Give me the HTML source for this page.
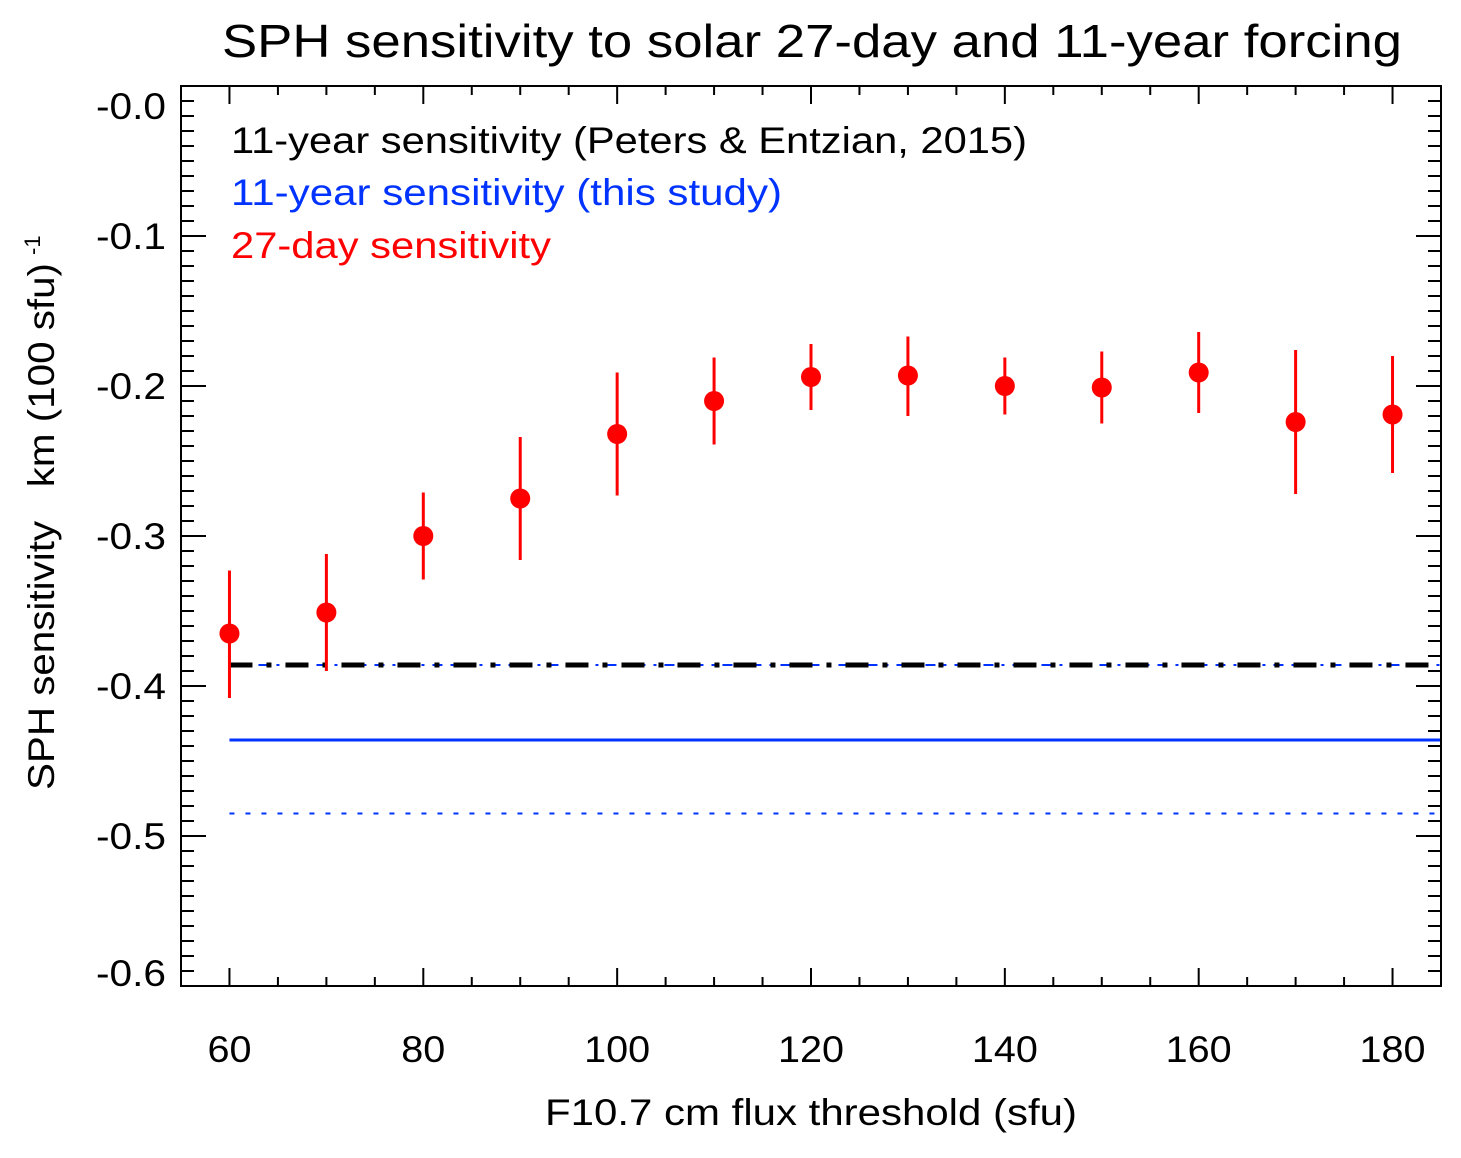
<!DOCTYPE html>
<html><head><meta charset="utf-8"><style>
html,body{margin:0;padding:0;background:#fff;}
svg text{font-family:"Liberation Sans",sans-serif;}
</style></head><body>
<svg id="chart" width="1461" height="1153" xmlns="http://www.w3.org/2000/svg">
<text x="222" y="57" font-size="46" textLength="1180" lengthAdjust="spacingAndGlyphs" fill="#000">SPH sensitivity to solar 27-day and 11-year forcing</text>
<g id="ticks"></g>
<g id="lines"></g>
<g id="points"></g>
<rect x="181" y="86" width="1260" height="900" fill="none" stroke="#000" stroke-width="2"/>
<text x="545" y="1125" font-size="37" textLength="532" lengthAdjust="spacingAndGlyphs">F10.7 cm flux threshold (sfu)</text>
<g transform="translate(54,790) rotate(-90)">
<text x="0" y="0" font-size="37" textLength="527" lengthAdjust="spacingAndGlyphs">SPH sensitivity&#160;&#160;&#160;km (100 sfu)</text>
<text x="535" y="-14" font-size="22">-1</text>
</g>
<text x="231" y="153" font-size="37" textLength="796" lengthAdjust="spacingAndGlyphs" fill="#000">11-year sensitivity (Peters &amp; Entzian, 2015)</text>
<text x="231" y="205" font-size="37" textLength="551" lengthAdjust="spacingAndGlyphs" fill="#0033ff">11-year sensitivity (this study)</text>
<text x="231" y="258" font-size="37" textLength="320" lengthAdjust="spacingAndGlyphs" fill="#ff0000">27-day sensitivity</text>
</svg>
<script>
const thresholds=[60,70,80,90,100,110,120,130,140,150,160,170,180];
const sens27=[-0.365,-0.351,-0.300,-0.275,-0.232,-0.210,-0.194,-0.193,-0.200,-0.201,-0.191,-0.224,-0.219];
const errHi=[-0.323,-0.312,-0.271,-0.234,-0.191,-0.181,-0.172,-0.167,-0.181,-0.177,-0.164,-0.176,-0.180];
const errLo=[-0.408,-0.390,-0.329,-0.316,-0.273,-0.239,-0.216,-0.220,-0.219,-0.225,-0.218,-0.272,-0.258];
const peters11=-0.386;
const thisStudy11=-0.436;
const thisStudyErr=[-0.386,-0.485];
const xTicks=[60,80,100,120,140,160,180];
const yTicks=[-0.0,-0.1,-0.2,-0.3,-0.4,-0.5,-0.6];
const yTickLabels=["-0.0","-0.1","-0.2","-0.3","-0.4","-0.5","-0.6"];

const NS="http://www.w3.org/2000/svg";
const X0=181,X1=1441,Y0=86,Y1=986,xmin=55,xmax=185,ymin=-0.6,ymax=0;
const sx=v=>X0+(v-xmin)/(xmax-xmin)*(X1-X0);
const sy=v=>Y0+(ymax-v)/(ymax-ymin)*(Y1-Y0);
function mk(tag,attrs,parent){const e=document.createElementNS(NS,tag);for(const k in attrs)e.setAttribute(k,attrs[k]);parent.appendChild(e);return e;}
const gT=document.getElementById('ticks'),gL=document.getElementById('lines'),gP=document.getElementById('points');

for(let v=60;v<=185;v+=5){
  const major=(v%20===0);const len=major?18:9;const x=sx(v);
  let t=mk('line',{x1:x,x2:x,y1:Y1,y2:Y1-len,stroke:'#000','stroke-width':2},gT);
  
  
  t=mk('line',{x1:x,x2:x,y1:Y0,y2:Y0+len,stroke:'#000','stroke-width':2},gT);
  
  
}
xTicks.forEach(v=>{
  const s=String(v);
  const t=mk('text',{x:sx(v),y:1062,'font-size':37,'text-anchor':'middle',textLength:s.length*22,lengthAdjust:'spacingAndGlyphs'},gT);t.textContent=s;
  
  
});
for(let i=0;i<=60;i++){
  const v=-i/100;const major=(i%10===0);const len=major?25:13;const y=sy(v);
  let t=mk('line',{x1:X0,x2:X0+len,y1:y,y2:y,stroke:'#000','stroke-width':2},gT);
  
  
  t=mk('line',{x1:X1,x2:X1-len,y1:y,y2:y,stroke:'#000','stroke-width':2},gT);
  
  
}
yTicks.forEach((v,i)=>{
  let y=sy(v)+13; if(i===0)y+=20; if(i===yTicks.length-1)y-=13;
  const t=mk('text',{x:96,y:y,'font-size':37,textLength:70,lengthAdjust:'spacingAndGlyphs'},gT);t.textContent=yTickLabels[i];
  
  
});
const xs=sx(60);
let l=mk('line',{x1:xs,x2:X1,y1:sy(thisStudyErr[0]),y2:sy(thisStudyErr[0]),stroke:'#0033ff','stroke-width':2,'stroke-dasharray':'10 8 3 8'},gL);


l=mk('line',{x1:xs,x2:X1,y1:sy(peters11),y2:sy(peters11),stroke:'#000','stroke-width':5,'stroke-dasharray':'23 14 5 14'},gL);


l=mk('line',{x1:xs,x2:X1,y1:sy(thisStudy11),y2:sy(thisStudy11),stroke:'#0033ff','stroke-width':3},gL);


l=mk('line',{x1:xs,x2:X1,y1:sy(thisStudyErr[1]),y2:sy(thisStudyErr[1]),stroke:'#0033ff','stroke-width':2,'stroke-dasharray':'5 11'},gL);


thresholds.forEach((t,i)=>{
  const x=sx(t);
  const e=mk('line',{x1:x,x2:x,y1:sy(errHi[i]),y2:sy(errLo[i]),stroke:'#ff0000','stroke-width':3},gP);
  
  
  const c=mk('circle',{cx:x,cy:sy(sens27[i]),r:10,fill:'#ff0000'},gP);
  
  
});
</script>
</body></html>
